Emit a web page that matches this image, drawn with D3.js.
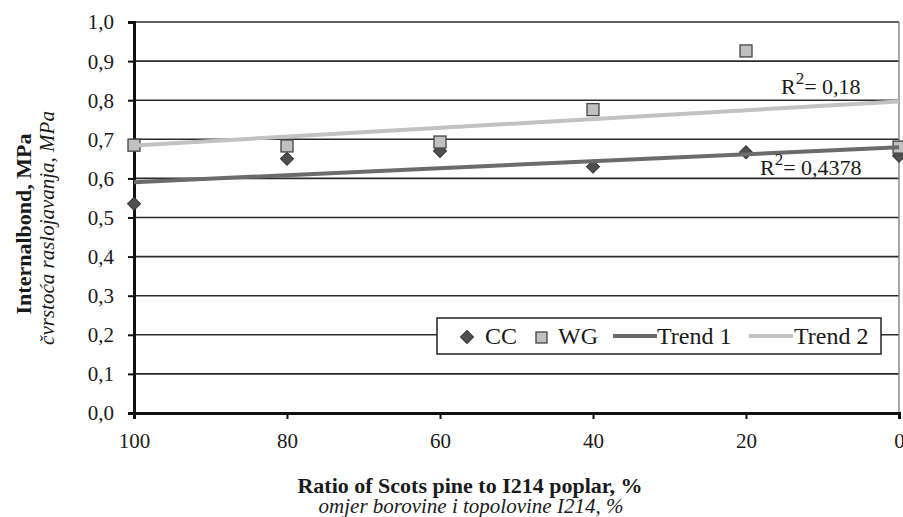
<!DOCTYPE html>
<html>
<head>
<meta charset="utf-8">
<script src="https://cdn.jsdelivr.net/npm/d3@7"></script>
<style>
  body { margin: 0; background: #fff; }
</style>
</head>
<body>
<script>
// data
var ratios = [100, 80, 60, 40, 20, 0];
var ccValues = [0.535, 0.650, 0.670, 0.630, 0.667, 0.658];
var wgValues = [0.685, 0.683, 0.693, 0.776, 0.926, 0.680];
var yTicks = [0, 0.1, 0.2, 0.3, 0.4, 0.5, 0.6, 0.7, 0.8, 0.9, 1.0];
var xTicks = [100, 80, 60, 40, 20, 0];
var legendLabels = ["CC", "WG", "Trend 1", "Trend 2"];
var r2Labels = ["0,4378", "0,18"];

var serif = "'Liberation Serif', 'Times New Roman', 'DejaVu Serif', serif";
var width = 903, height = 517;
var margin = { left: 134, right: 4, top: 22, bottom: 104 };

var svg = d3.select("body").append("svg")
  .attr("width", width)
  .attr("height", height)
  .style("font-family", serif);

var x = d3.scaleLinear().domain([100, 0]).range([margin.left, width - margin.right]);
var y = d3.scaleLinear().domain([0, 1]).range([height - margin.bottom, margin.top]);

var fmt = function (d) { return d3.format(".1f")(d).replace(".", ","); };

// least squares fit
function fit(xs, ys) {
  var mx = d3.mean(xs), my = d3.mean(ys);
  var sxy = d3.sum(xs, function (d, i) { return (d - mx) * (ys[i] - my); });
  var sxx = d3.sum(xs, function (d) { return (d - mx) * (d - mx); });
  var b = sxy / sxx;
  return function (v) { return my + b * (v - mx); };
}
var trend1 = fit(ratios, ccValues);
var trend2 = fit(ratios, wgValues);

// grid
svg.append("g")
  .selectAll("line")
  .data(yTicks.slice(1))
  .enter().append("line")
  .attr("x1", margin.left)
  .attr("x2", width - margin.right)
  .attr("y1", function (d) { return y(d); })
  .attr("y2", function (d) { return y(d); })
  .attr("stroke", "#2a2a2a")
  .attr("stroke-width", 1.6);

// right border
svg.append("line")
  .attr("x1", x(0)).attr("x2", x(0))
  .attr("y1", y(1)).attr("y2", y(0))
  .attr("stroke", "#8a8a8a")
  .attr("stroke-width", 1.5);

// y axis
var yAxis = svg.append("g")
  .attr("transform", "translate(" + margin.left + ",0)")
  .call(d3.axisLeft(y).tickValues(yTicks).tickFormat(fmt).tickSize(6).tickPadding(14));
yAxis.attr("font-family", null).attr("font-size", null);
yAxis.select(".domain").attr("stroke", "#111").attr("stroke-width", 3);
yAxis.selectAll(".tick line").attr("stroke", "#111").attr("stroke-width", 2);
yAxis.selectAll("text")
  .style("font-family", serif).style("font-size", "21px")
  .attr("fill", "#1a1a1a").attr("dy", "0.33em");

// x axis
var xAxis = svg.append("g")
  .attr("transform", "translate(0," + y(0) + ")")
  .call(d3.axisBottom(x).tickValues(xTicks).tickSize(6).tickPadding(14));
xAxis.attr("font-family", null).attr("font-size", null);
xAxis.select(".domain").attr("stroke", "#111").attr("stroke-width", 3);
xAxis.selectAll(".tick line").attr("stroke", "#111").attr("stroke-width", 2);
xAxis.selectAll("text")
  .style("font-family", serif).style("font-size", "21px")
  .attr("fill", "#1a1a1a");

// points
var diamond = d3.symbol().type(d3.symbolSquare).size(84);
svg.append("g")
  .selectAll("path")
  .data(ratios)
  .enter().append("path")
  .attr("d", diamond)
  .attr("transform", function (d, i) { return "translate(" + x(d) + "," + y(ccValues[i]) + ") rotate(45)"; })
  .attr("fill", "#4f4f4f")
  .attr("stroke", "#333")
  .attr("stroke-width", 1);

svg.append("g")
  .selectAll("rect")
  .data(ratios)
  .enter().append("rect")
  .attr("x", function (d) { return x(d) - 6; })
  .attr("y", function (d, i) { return y(wgValues[i]) - 6; })
  .attr("width", 12)
  .attr("height", 12)
  .attr("fill", "#c0c0c0")
  .attr("stroke", "#444")
  .attr("stroke-width", 1.3);

// trend lines
var trends = [
  { f: trend1, color: "#6b6b6b" },
  { f: trend2, color: "#c2c2c2" }
];
svg.append("g")
  .selectAll("line")
  .data(trends)
  .enter().append("line")
  .attr("x1", x(100))
  .attr("x2", x(0))
  .attr("y1", function (d) { return y(d.f(100)); })
  .attr("y2", function (d) { return y(d.f(0)); })
  .attr("stroke", function (d) { return d.color; })
  .attr("stroke-width", 4);

// R² labels
var r2Pos = [{ x: 760, y: 175 }, { x: 781, y: 94 }];
r2Labels.forEach(function (lab, i) {
  var t = svg.append("text")
    .attr("x", r2Pos[i].x)
    .attr("y", r2Pos[i].y)
    .style("font-size", "22px")
    .attr("fill", "#1a1a1a");
  t.append("tspan").text("R");
  t.append("tspan").attr("dy", -10).style("font-size", "17px").text("2");
  t.append("tspan").attr("dy", 10).text("= " + lab);
});

// legend
var lg = svg.append("g");
lg.append("rect")
  .attr("x", 437).attr("y", 318)
  .attr("width", 444).attr("height", 36)
  .attr("fill", "#fff")
  .attr("stroke", "#222")
  .attr("stroke-width", 1.5);
lg.append("path")
  .attr("d", diamond)
  .attr("transform", "translate(467,337) rotate(45)")
  .attr("fill", "#4f4f4f").attr("stroke", "#333");
lg.append("rect")
  .attr("x", 536).attr("y", 332).attr("width", 11).attr("height", 11)
  .attr("fill", "#c0c0c0").attr("stroke", "#444").attr("stroke-width", 1.3);
lg.append("line").attr("x1", 613).attr("x2", 657).attr("y1", 336).attr("y2", 336)
  .attr("stroke", "#6b6b6b").attr("stroke-width", 4);
lg.append("line").attr("x1", 749).attr("x2", 793).attr("y1", 336).attr("y2", 336)
  .attr("stroke", "#c2c2c2").attr("stroke-width", 4);
var lgX = [485, 558, 657, 794];
lg.selectAll("text.lab")
  .data(legendLabels)
  .enter().append("text")
  .attr("class", "lab")
  .attr("x", function (d, i) { return lgX[i]; })
  .attr("y", 344)
  .attr("fill", "#1a1a1a")
  .style("font-size", "24px")
  .text(function (d) { return d; });

// axis titles
svg.append("text")
  .attr("x", 470).attr("y", 493)
  .attr("text-anchor", "middle")
  .attr("fill", "#1a1a1a")
  .style("font-size", "22px").style("font-weight", "bold")
  .text("Ratio of Scots pine to I214 poplar, %");
svg.append("text")
  .attr("x", 471).attr("y", 513)
  .attr("text-anchor", "middle")
  .attr("fill", "#1a1a1a")
  .style("font-size", "21px").style("font-style", "italic")
  .text("omjer borovine i topolovine I214, %");

svg.append("text")
  .attr("transform", "translate(31,224) rotate(-90)")
  .attr("text-anchor", "middle")
  .attr("fill", "#1a1a1a")
  .style("font-size", "22px").style("font-weight", "bold")
  .text("Internalbond, MPa");
svg.append("text")
  .attr("transform", "translate(54,228) rotate(-90)")
  .attr("text-anchor", "middle")
  .attr("fill", "#1a1a1a")
  .style("font-size", "21px").style("font-style", "italic")
  .text("čvrstoća raslojavanja, MPa");
</script>
</body>
</html>
